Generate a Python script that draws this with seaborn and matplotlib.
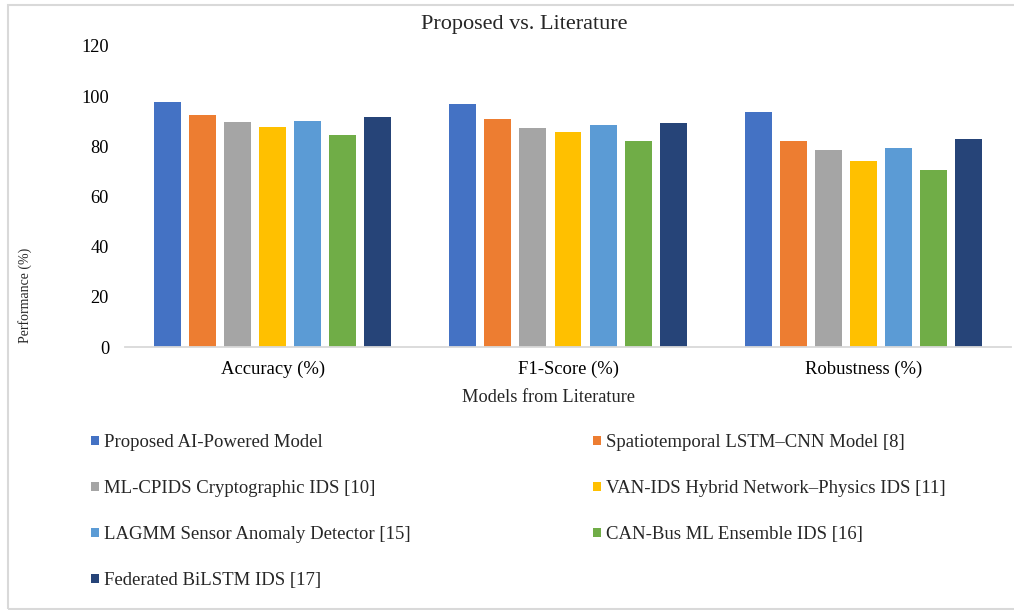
import matplotlib
matplotlib.use("Agg")
import matplotlib.pyplot as plt
from matplotlib.patches import Patch, Rectangle
import pandas as pd
import seaborn as sns

# Metrics on the category axis
metrics = ["Accuracy (%)", "F1-Score (%)", "Robustness (%)"]

# Models compared (hue order)
models = [
    "Proposed AI-Powered Model",
    "Spatiotemporal LSTM\u2013CNN Model [8]",
    "ML-CPIDS Cryptographic IDS [10]",
    "VAN-IDS Hybrid Network\u2013Physics IDS [11]",
    "LAGMM Sensor Anomaly Detector [15]",
    "CAN-Bus ML Ensemble IDS [16]",
    "Federated BiLSTM IDS [17]",
]

# Scores per model: accuracy, F1-score, robustness
proposed = [97.8, 96.9, 93.6]
lstm_cnn = [92.4, 90.7, 82.0]
ml_cpids = [89.6, 87.2, 78.5]
van_ids = [87.8, 85.6, 74.2]
lagmm = [90.1, 88.4, 79.4]
canbus = [84.5, 82.1, 70.5]
fed_bilstm = [91.6, 89.3, 82.8]

yticks = [0, 20, 40, 60, 80, 100, 120]

colors = ["#4472C4", "#ED7D31", "#A5A5A5", "#FFC000",
          "#5B9BD5", "#70AD47", "#264478"]

series = [proposed, lstm_cnn, ml_cpids, van_ids, lagmm, canbus, fed_bilstm]
rows = []
for model, vals in zip(models, series):
    for metric, v in zip(metrics, vals):
        rows.append({"metric": metric, "model": model, "value": v})
df = pd.DataFrame(rows)

sns.set_style("white")
plt.rcParams["font.family"] = ["Liberation Serif", "DejaVu Serif"]

W, H = 1014, 610
fig = plt.figure(figsize=(W / 100, H / 100), dpi=100)
ax = fig.add_axes([125 / W, 1 - 347 / H, (1011 - 125) / W, (347 - 46) / H])

sns.barplot(data=df, x="metric", y="value", hue="model",
            order=metrics, hue_order=models, palette=colors,
            width=0.83, gap=0.23, saturation=1, linewidth=0,
            legend=False, ax=ax)

ax.set_ylim(0, 120)
ax.set_xlim(-0.5, 2.5)
ax.set_yticks(yticks)
ax.set_yticklabels([str(t) for t in yticks])
ax.tick_params(axis="y", length=0, pad=11.5, labelsize=13.2, colors="#000000")
ax.tick_params(axis="x", length=0, pad=10.2, labelsize=13.4, colors="#000000")
ax.set_xlabel("")
ax.set_ylabel("")
ax.grid(False)
for side in ["top", "right", "left"]:
    ax.spines[side].set_visible(False)
ax.spines["bottom"].set_color("#d9d9d9")
ax.spines["bottom"].set_linewidth(1.3)

# Titles
fig.text(524.5 / W, 1 - 25 / H, "Proposed vs. Literature", ha="center",
         va="center", fontsize=16)
fig.text(549 / W, 1 - 398 / H, "Models from Literature", ha="center",
         va="center", fontsize=13.2)
fig.text(25 / W, 1 - 295 / H, "Performance (%)", ha="center", va="center",
         rotation=90, fontsize=10)

# Two-column legend laid out row by row
handles = [Patch(facecolor=c, edgecolor="none") for c in colors]
leg_kw = dict(loc="upper left", frameon=False, fontsize=13.5,
              handlelength=0.4, handleheight=0.4, handletextpad=0.3,
              labelspacing=1.55, borderpad=0, borderaxespad=0)
left_idx = [0, 2, 4, 6]
right_idx = [1, 3, 5]
fig.legend([handles[i] for i in left_idx], [models[i] for i in left_idx],
           bbox_to_anchor=(91 / W, 1 - 434 / H), **leg_kw)
fig.legend([handles[i] for i in right_idx], [models[i] for i in right_idx],
           bbox_to_anchor=(593 / W, 1 - 434 / H), **leg_kw)

# Chart-area border
fig.patches.append(Rectangle((7.5 / W, 1.5 / H), 1.1, 1 - 6.5 / H,
                             transform=fig.transFigure, fill=False,
                             edgecolor="#d9d9d9", linewidth=1.5))

fig.savefig("out.png", dpi=100)
